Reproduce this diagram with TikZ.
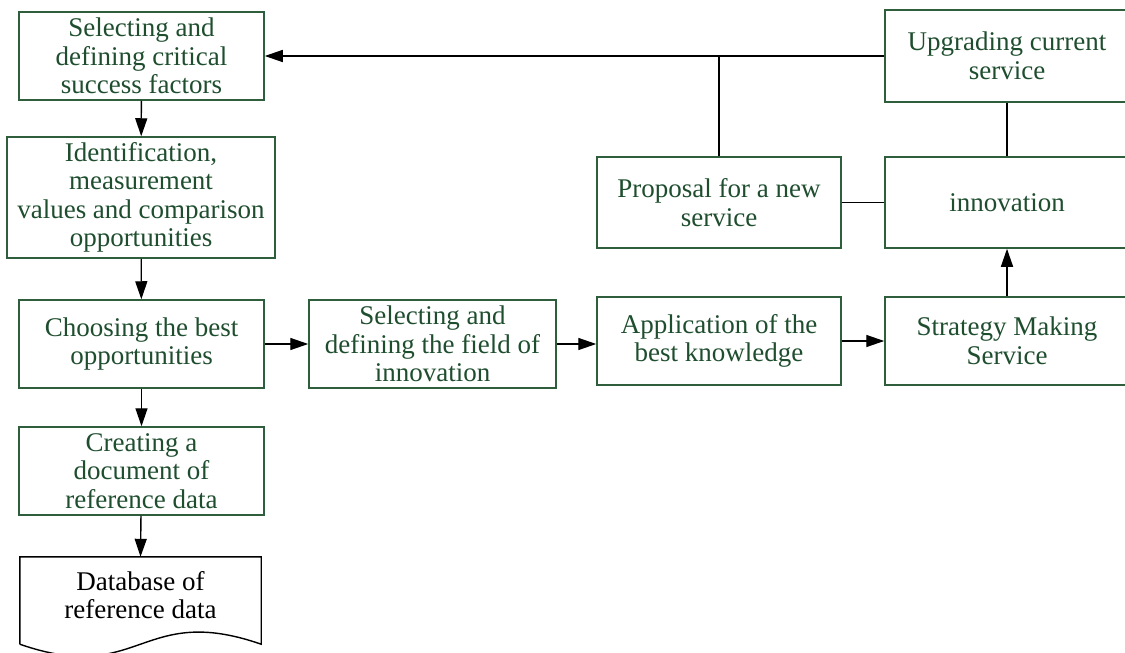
\documentclass[tikz,border=0pt]{standalone}
\usepackage{fontspec}
\setmainfont{Liberation Serif}
\usetikzlibrary{arrows.meta,calc}
\definecolor{txtgreen}{RGB}{31,78,47}
\definecolor{boxgreen}{RGB}{46,94,60}
\begin{document}
\begin{tikzpicture}[x=1pt,y=-1pt,
  box/.style={draw=boxgreen,line width=1.5pt,minimum width=#1,inner sep=0pt,align=center,
    text=txtgreen,font=\fontsize{27}{28.5}\selectfont},
  box/.default=245pt,
  conn/.style={draw=black,line width=1.4pt},
  arr/.style={conn,-{Triangle[length=18pt,width=12pt]}}]
\useasboundingbox (0,0) rectangle (1125,653);
\fill[white] (0,0) rectangle (1125,653);
% left column
\node[box=245pt,minimum height=88pt] (b1) at (141.5,56) {Selecting and\\defining critical\\success factors};
\node[box=268pt,minimum height=121pt] (b2) at (141,197.5) {Identification,\\measurement\\values and comparison\\opportunities};
\node[box=245pt,minimum height=88pt] (b3) at (141.5,344) {Choosing the best\\opportunities};
\node[box=245pt,minimum height=88pt] (b4) at (141.5,471) {Creating a\\document of\\reference data};
\node[align=center,inner sep=0pt,minimum width=241pt,minimum height=87pt,font=\fontsize{27}{28.5}\selectfont] (b5) at (140.5,600.5) {};
\node[align=center,inner sep=0pt,font=\fontsize{27}{28.5}\selectfont] (b5t) at (140.5,595) {Database of\\reference data};
\draw[line width=1.4pt,line join=miter] (b5.south west) -- (b5.north west) -- (b5.north east) -- (b5.south east)
  .. controls ($(b5.south)+(0,-42)$) and ($(b5.south)+(0,42)$) .. (b5.south west);
% middle row
\node[box=247pt,minimum height=88pt] (b6) at (432.5,344) {Selecting and\\defining the field of\\innovation};
\node[box=244pt,minimum height=88pt] (b7) at (719,341) {Application of the\\best knowledge};
\node[box=244pt,minimum height=88pt] (b8) at (1007,341) {Strategy Making\\Service};
\node[box=244pt,minimum height=91pt] (b9) at (1007,202.5) {innovation};
\node[box=244pt,minimum height=91pt] (b10) at (719,202.5) {Proposal for a new\\service};
\node[box=244pt,minimum height=92pt] (b11) at (1007,56) {Upgrading current\\service};
% connectors
\draw[arr] (b1) -- (b2);
\draw[arr] (b2) -- (b3);
\draw[arr] (b3) -- (b4);
\draw[arr] (b4) -- (b5.north);
\draw[arr] (b3.east) -- (b6.west |- b3.east);
\draw[arr] (b6.east) -- (b7.west |- b6.east);
\draw[arr] (b7) -- (b8);
\draw[arr] (b8) -- (b9);
\draw[conn] (b11) -- (b9);
\draw[conn] (b10) -- (b9);
\draw[arr] (b11.west) -- (b1.east |- b11.west);
\coordinate (j) at (b10.north |- b11.west);
\draw[conn] (b10.north) -- (j);
\end{tikzpicture}
\end{document}
